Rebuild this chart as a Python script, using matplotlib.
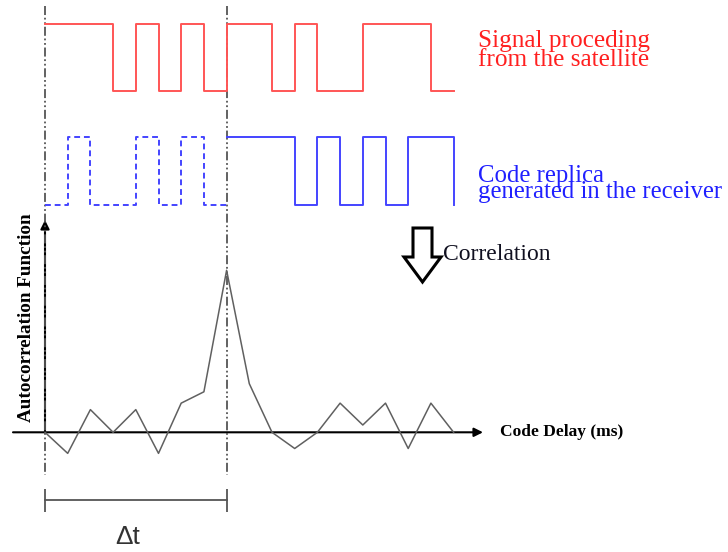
import matplotlib.pyplot as plt
from matplotlib.patches import Polygon

# chip values of the two codes (1 = high, 0 = low), one per chip period
satellite_chips = [1, 1, 1, 0, 1, 0, 1, 0, 1, 1, 0, 1, 0, 0, 1, 1, 1, 0]
replica_early = [0, 1, 0, 0, 1, 0, 1, 0]            # dashed part (before the delay)
replica_late = [1, 1, 1, 0, 1, 0, 1, 0, 1, 1]        # solid part (after the delay)
delay_chips = 8

# autocorrelation samples at each chip offset, peak normalised to 1
corr_offsets = list(range(19))
corr_values = [0.0, -0.13, 0.14, 0.0, 0.14, -0.13, 0.18, 0.25, 1.0, 0.30,
               0.0, -0.10, 0.0, 0.18, 0.045, 0.18, -0.10, 0.18, 0.0]

W, H = 728, 552
CHIP_PX = 22.7
X0_PX = 45
XLIM = (-X0_PX / CHIP_PX, (W - X0_PX) / CHIP_PX)

fig = plt.figure(figsize=(W / 100, H / 100), dpi=100)
serif = ['Liberation Serif', 'DejaVu Serif']


def chip_axes(base_px, amp_px):
    a = fig.add_axes([0, (H - base_px) / H, 1, amp_px / H])
    a.set_xlim(*XLIM)
    a.set_ylim(0, 1)
    a.axis('off')
    return a


# overlay in pixel coordinates for texts and arrows
ov = fig.add_axes([0, 0, 1, 1])
ov.set_xlim(0, W)
ov.set_ylim(H, 0)
ov.axis('off')

# guide axes: x in chips, y in pixels
guide = fig.add_axes([0, 0, 1, 1])
guide.set_xlim(*XLIM)
guide.set_ylim(H, 0)
guide.axis('off')
dashdot = (0, (5, 1.5, 1, 1.5, 1, 1.5))
guide.vlines([0, delay_chips], 6, 475, colors='#555555', lw=1.3, linestyles=[dashdot])
guide.plot([0, delay_chips], [500, 500], color='#555555', lw=1.3)
guide.vlines([0, delay_chips], 489, 512, colors='#555555', lw=1.3)
ov.text(128, 537, '\u0394t', ha='center', va='center',
        fontsize=19, family='Liberation Sans', color='#333333')

# satellite signal
ax_r = chip_axes(90.7, 66.7)
xs = list(range(len(satellite_chips) + 1))
ax_r.step(xs, satellite_chips + [satellite_chips[-1]], where='post',
          color='#ff5555', lw=1.4, clip_on=False)

# receiver replica
ax_b = chip_axes(205, 68.3)
xe = list(range(len(replica_early) + 1))
ax_b.step(xe, replica_early + [replica_early[-1]], where='post',
          color='#4444ff', lw=1.4, ls=(0, (3, 2)), clip_on=False)
xl = list(range(delay_chips, delay_chips + len(replica_late) + 1))
ax_b.step(xl, replica_late + [0], where='post', color='#4444ff', lw=1.4, clip_on=False)

# correlation function
ax_c = chip_axes(432.3, 162)
ax_c.plot(corr_offsets, corr_values, color='#606060', lw=1.1, clip_on=False)

# axis arrows
arrow = dict(arrowstyle='-|>', color='black', lw=1.5, mutation_scale=13,
             shrinkA=0, shrinkB=0)
ov.annotate('', xy=(45, 220), xytext=(45, 432.3), arrowprops=arrow)
ov.annotate('', xy=(483, 432.3), xytext=(13, 432.3), arrowprops=arrow)

ov.text(500, 432, 'Code Delay (ms)', ha='left', va='center', fontsize=12.5,
        fontweight='bold', family=serif)
ov.text(27, 318, 'Autocorrelation Function', ha='center', va='center', rotation=90,
        fontsize=13.8, fontweight='bold', family=serif)

# texts next to the codes
ov.text(478, 46.7, 'Signal proceding', color='#ff2020', fontsize=18.2, family=serif, va='baseline')
ov.text(478, 65.7, 'from the satellite', color='#ff2020', fontsize=18.2, family=serif, va='baseline')
ov.text(478, 181.7, 'Code replica', color='#2020ff', fontsize=17.8, family=serif, va='baseline')
ov.text(478, 198.3, 'generated in the receiver', color='#2020ff', fontsize=17.8,
        family=serif, va='baseline')

# block arrow + label
block = [(413, 228), (432, 228), (432, 257), (441, 257), (422.5, 282),
         (404, 257), (413, 257)]
ov.add_patch(Polygon(block, closed=True, facecolor='white', edgecolor='black', lw=2.2))
ov.text(443, 260, 'Correlation', fontsize=17, family=serif, va='baseline', color='#101020')

fig.savefig('out.png', dpi=100)
